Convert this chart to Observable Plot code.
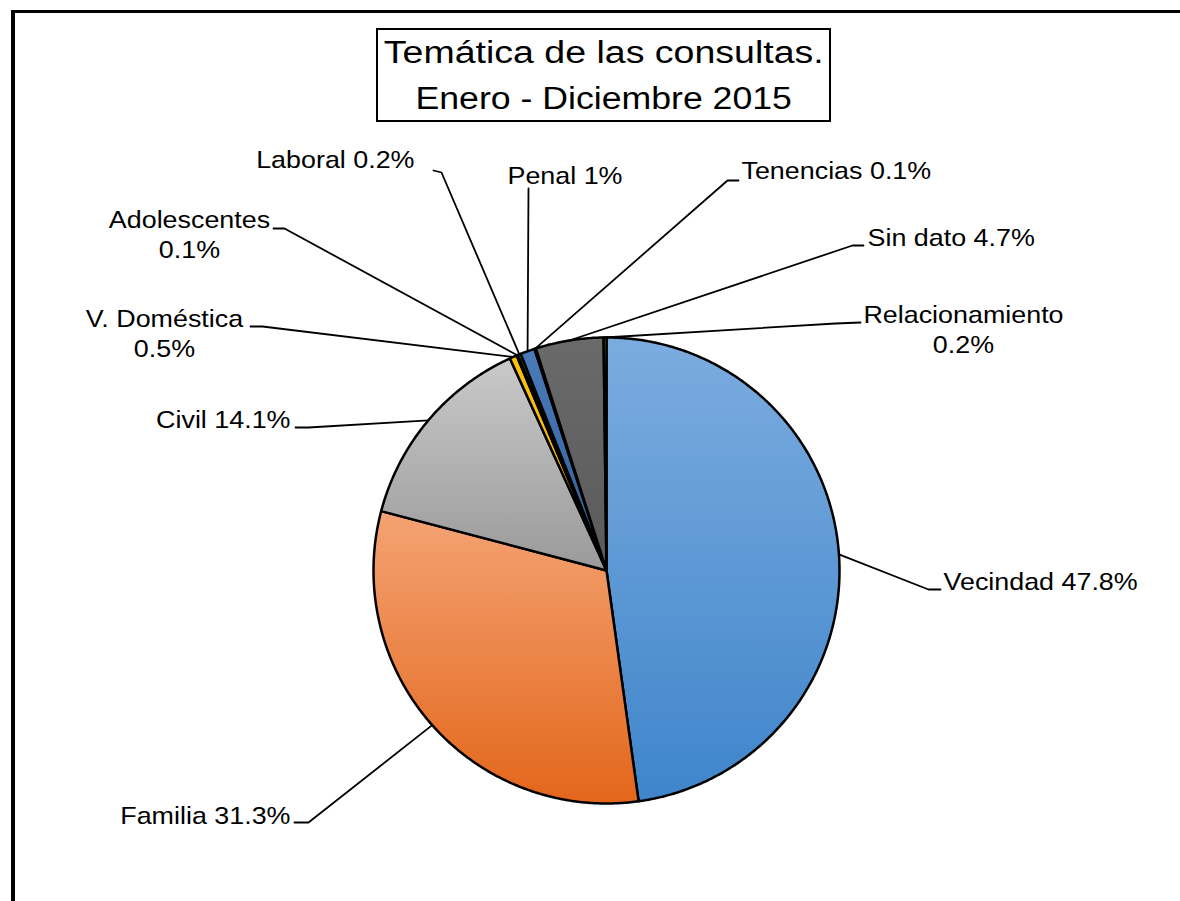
<!DOCTYPE html>
<html>
<head>
<meta charset="utf-8">
<script src="https://cdn.jsdelivr.net/npm/d3@7"></script>
<script src="https://cdn.jsdelivr.net/npm/@observablehq/plot@0.6"></script>
<style>
  html, body { margin: 0; padding: 0; background: #fff; }
  #wrap { position: relative; width: 1180px; height: 901px; overflow: hidden; background: #fff;
          font-family: "Liberation Sans", Arial, sans-serif; }
  #frame { position: absolute; left: 11px; top: 10px; right: 0; bottom: 0;
           border-left: 4px solid #000; border-top: 3px solid #000; }
  #chart { position: absolute; left: 0; top: 0; }
  #title { position: absolute; left: 376px; top: 28px; width: 451px; height: 90px;
           border: 2px solid #000; background: #fff; text-align: center; color: #000;
           font-size: 31px; line-height: 46px; }
  #title span { display: inline-block; transform-origin: 50% 50%; white-space: nowrap; }
  #t1 { transform: scaleX(1.21); }
  #t2 { transform: scaleX(1.15); }
</style>
</head>
<body>
<div id="wrap">
  <div id="frame"></div>
  <div id="chart"></div>
  <div id="title"><span id="t1">Temática de las consultas.</span><br><span id="t2">Enero - Diciembre 2015</span></div>
</div>
<script>
// ---- data ----
const categories = ["Vecindad", "Familia", "Civil", "V. Doméstica", "Adolescentes",
                    "Laboral", "Penal", "Tenencias", "Sin dato", "Relacionamiento"];
const shares = [47.8, 31.3, 14.1, 0.5, 0.1, 0.2, 1, 0.1, 4.7, 0.2];
const labelTexts = ["Vecindad 47.8%", "Familia 31.3%", "Civil 14.1%", "V. Doméstica\n0.5%",
                    "Adolescentes\n0.1%", "Laboral 0.2%", "Penal 1%", "Tenencias 0.1%",
                    "Sin dato 4.7%", "Relacionamiento\n0.2%"];

// ---- styles (gradient top / bottom per slice) ----
const sliceColors = [
  ["#7cacdf", "#3f85cb"],
  ["#f4a374", "#e3661b"],
  ["#c9c9c9", "#9a9a9a"],
  ["#ffc20a", "#f0b000"],
  ["#4a78c8", "#3c66b4"],
  ["#74b04b", "#5e9a38"],
  ["#4a7bb8", "#2f5f9a"],
  ["#a44c12", "#8e400c"],
  ["#6a6a6a", "#5a5a5a"],
  ["#9c7604", "#876400"]
];

// ---- layout (pixel offsets from pie centre, screen y downward) ----
const W = 1180, H = 901, CX = 606, CY = 570, R = 233;
const FS = 24, LH = 1.25, STRETCH = 1.12;
const labelLayout = [
  {anchor: "start",  tx: 337,  ty: 19,   elbow: [322, 19],   end: [334, 19]},
  {anchor: "end",    tx: -316, ty: 253,  elbow: [-298, 252], end: [-312, 252]},
  {anchor: "end",    tx: -316, ty: -143, elbow: [-298, -143], end: [-311, -143]},
  {anchor: "middle", tx: -442, ty: -244, elbow: [-344, -244], end: [-356, -244]},
  {anchor: "middle", tx: -417, ty: -343, elbow: [-322, -342], end: [-333, -342]},
  {anchor: "end",    tx: -192, ty: -403, elbow: [-165, -398], end: [-173, -400]},
  {anchor: "start",  tx: -99,  ty: -387, elbow: [-78, -382],  end: [-78, -382]},
  {anchor: "start",  tx: 135,  ty: -392, elbow: [121, -390],  end: [132, -390]},
  {anchor: "start",  tx: 261,  ty: -325, elbow: [246, -325],  end: [257, -325]},
  {anchor: "middle", tx: 357,  ty: -248, elbow: [229, -247],  end: [254, -248]}
];

// ---- geometry from data ----
const total = d3.sum(shares);
const slicePts = [];
const leaderPts = [];
const labelRows = [];
let acc = 0;
categories.forEach((cat, i) => {
  const a0 = acc / total * 2 * Math.PI;
  acc += shares[i];
  const a1 = acc / total * 2 * Math.PI;
  slicePts.push({cat, x: 0, y: 0});
  const n = Math.max(2, Math.ceil((a1 - a0) / (Math.PI / 360)));
  for (let k = 0; k <= n; k++) {
    const a = a0 + (a1 - a0) * k / n;
    slicePts.push({cat, x: R * Math.sin(a), y: R * Math.cos(a)});
  }
  slicePts.push({cat, x: 0, y: 0});

  const am = (a0 + a1) / 2;
  const L = labelLayout[i];
  leaderPts.push({cat, x: R * Math.sin(am), y: R * Math.cos(am)});
  leaderPts.push({cat, x: L.elbow[0], y: -L.elbow[1]});
  leaderPts.push({cat, x: L.end[0], y: -L.end[1]});

  const text = labelTexts[i];
  const nl = text.split("\n").length;
  labelRows.push({cat, anchor: L.anchor, text, x: L.tx, y: -(L.ty + (nl - 1) * FS * LH)});
});

const textMark = (anchor) => Plot.text(labelRows.filter(d => d.anchor === anchor), {
  x: "x", y: "y", text: "text", textAnchor: anchor, lineAnchor: "bottom",
  fontSize: FS, lineHeight: LH, fill: "#000"
});

const svg = Plot.plot({
  width: W, height: H,
  marginTop: 0, marginRight: 0, marginBottom: 0, marginLeft: 0,
  x: {domain: [-CX, W - CX], axis: null},
  y: {domain: [-(H - CY), CY], axis: null},
  color: {type: "ordinal", domain: categories, range: categories.map((_, i) => `url(#grad${i})`)},
  style: {background: "transparent", fontFamily: "'Liberation Sans', Arial, sans-serif", overflow: "visible"},
  marks: [
    Plot.line(leaderPts, {x: "x", y: "y", z: "cat", stroke: "#000", strokeWidth: 1.8, strokeLinejoin: "round"}),
    Plot.line(slicePts, {x: "x", y: "y", z: "cat", fill: "cat", stroke: "#000", strokeWidth: 2.5, strokeLinejoin: "round", curve: "linear"}),
    textMark("start"),
    textMark("end"),
    textMark("middle")
  ]
});

// gradients
const defs = d3.select(svg).insert("defs", ":first-child");
sliceColors.forEach(([top, bot], i) => {
  const g = defs.append("linearGradient").attr("id", `grad${i}`)
    .attr("x1", 0).attr("y1", 0).attr("x2", 0).attr("y2", 1);
  g.append("stop").attr("offset", "0%").attr("stop-color", top);
  g.append("stop").attr("offset", "100%").attr("stop-color", bot);
});

// horizontal stretch of label glyphs as in the reference
svg.querySelectorAll("g[aria-label='text'] text").forEach(t => {
  const tr = t.getAttribute("transform") || "";
  t.setAttribute("transform", tr + ` scale(${STRETCH},1)`);
});

document.getElementById("chart").appendChild(svg);
</script>
</body>
</html>
